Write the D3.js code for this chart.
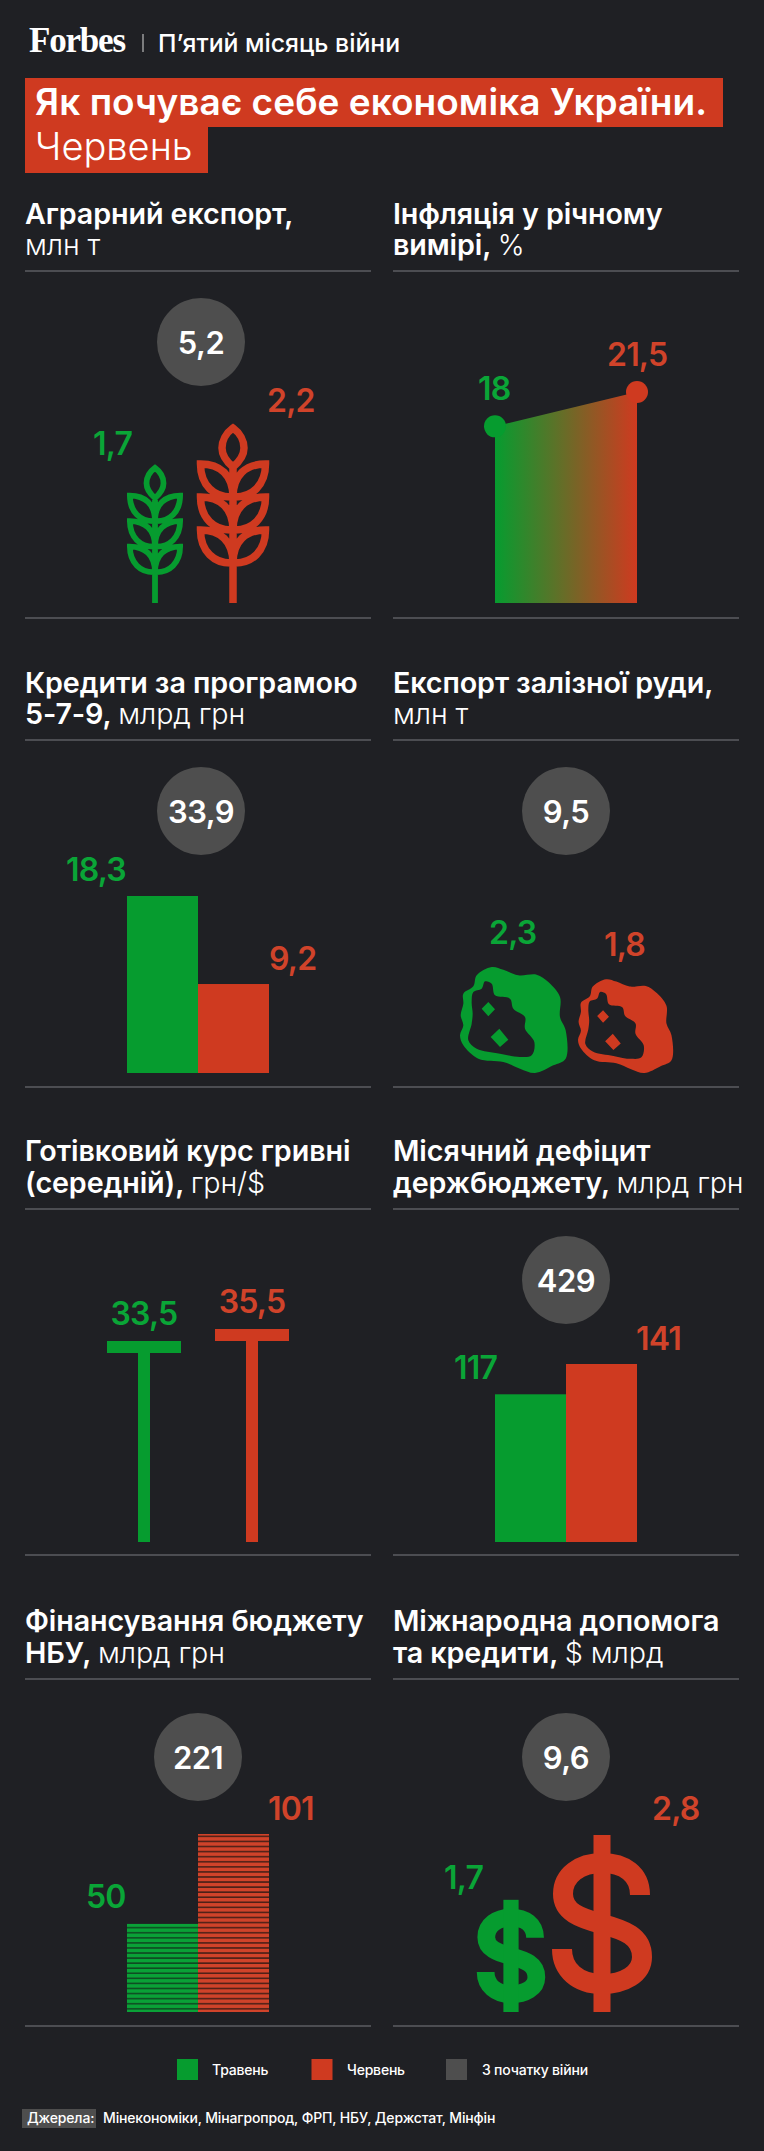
<!DOCTYPE html>
<html>
<head>
<meta charset="utf-8">
<script src="https://cdn.jsdelivr.net/npm/d3@7"></script>
<style>
  html, body { margin: 0; padding: 0; background: #1f2024; }
  svg { display: block; font-family: Inter, "Noto Sans", sans-serif; }
</style>
</head>
<body>
<svg id="chart" width="764" height="2151"></svg>
<script>
// values
const months = ['Травень', 'Червень'];
const agroExport = [1.7, 2.2];
const inflation = [18, 21.5];
const loans = [18.3, 9.2];
const oreExport = [2.3, 1.8];
const fxRate = [33.5, 35.5];
const deficit = [117, 141];
const nbuFinancing = [50, 101];
const aid = [1.7, 2.8];
const sinceWarStart = { agro: 5.2, loans: 33.9, ore: 9.5, deficit: 429, nbu: 221, aid: 9.6 };
const legendLabels = ['Травень', 'Червень', 'З початку війни'];
const sources = 'Мінекономіки, Мінагропрод, ФРП, НБУ, Держстат, Мінфін';

const green = '#069c2f', red = '#cf3a20', gray = '#4e4e4e', bg = '#1f2024', ruleColor = '#4c4d52';
const greenText = '#0aa537', redText = '#d0432a';
const colors = [green, red], textColors = [greenText, redText];

const svg = d3.select('#chart');
const comma = (v) => String(v).replace('.', ',');

svg.append('rect').attr('width', 764).attr('height', 2151).attr('fill', bg);

const defs = svg.append('defs');
const grad = defs.append('linearGradient').attr('id', 'inflGrad');
grad.append('stop').attr('offset', '0%').attr('stop-color', green);
grad.append('stop').attr('offset', '100%').attr('stop-color', red);

// stripes for the NBU bars
const stripe = (id, col, dark) => {
  const p = defs.append('pattern').attr('id', id).attr('patternUnits', 'userSpaceOnUse')
    .attr('width', 10).attr('height', 5.07).attr('y', 1837.2);
  p.append('rect').attr('width', 10).attr('height', 5.07).attr('fill', dark);
  p.append('rect').attr('width', 10).attr('height', 3.5).attr('fill', col);
};
stripe('stripeG', '#0aa137', '#0f4a22');
stripe('stripeR', '#d0432a', '#4c2017');

// header
svg.append('text').attr('x', 29).attr('y', 52).attr('fill', '#fff')
  .attr('font-family', '"Liberation Serif", serif').attr('font-weight', 700)
  .attr('font-size', 35).attr('letter-spacing', -1.2).text('Forbes');
svg.append('line').attr('x1', 143).attr('x2', 143).attr('y1', 34).attr('y2', 52)
  .attr('stroke', '#bbb').attr('stroke-width', 1.2);
svg.append('text').attr('x', 158).attr('y', 52).attr('fill', '#fff').attr('font-weight', 500)
  .attr('font-size', 24.8).text('П’ятий місяць війни');

svg.append('rect').attr('x', 25).attr('y', 78).attr('width', 698).attr('height', 49).attr('fill', red);
svg.append('rect').attr('x', 25).attr('y', 127).attr('width', 183).attr('height', 46).attr('fill', red);
svg.append('text').attr('x', 35).attr('y', 115).attr('fill', '#fff').attr('font-weight', 600)
  .attr('font-size', 37).attr('textLength', 672).attr('lengthAdjust', 'spacing')
  .text('Як почуває себе економіка України.');
svg.append('text').attr('x', 35).attr('y', 160).attr('fill', '#fff').attr('font-weight', 300)
  .attr('font-size', 38).text('Червень');

// section titles
const heading = (x, y1, y2, line1, boldPart, lightPart, ruleY) => {
  svg.append('text').attr('x', x).attr('y', y1).attr('fill', '#fff').attr('font-weight', 600)
    .attr('font-size', 28.7).attr('letter-spacing', -0.1).text(line1);
  const t = svg.append('text').attr('x', x).attr('y', y2).attr('fill', '#fff')
    .attr('font-size', 28.7).attr('letter-spacing', -0.1);
  if (boldPart) t.append('tspan').attr('font-weight', 600).text(boldPart + ' ');
  t.append('tspan').attr('font-weight', 300).text(lightPart);
  svg.append('line').attr('x1', x).attr('x2', x + 346).attr('y1', ruleY).attr('y2', ruleY)
    .attr('stroke', ruleColor).attr('stroke-width', 2);
};
const left = 25, right = 393;
heading(left, 224, 255, 'Аграрний експорт,', '', 'млн т', 271);
heading(right, 224, 255, 'Інфляція у річному', 'вимірі,', '%', 271);
heading(left, 693, 724, 'Кредити за програмою', '5-7-9,', 'млрд грн', 740);
heading(right, 693, 724, 'Експорт залізної руди,', '', 'млн т', 740);
heading(left, 1161, 1193, 'Готівковий курс гривні', '(середній),', 'грн/$', 1209);
heading(right, 1161, 1193, 'Місячний дефіцит', 'держбюджету,', 'млрд грн', 1209);
heading(left, 1631, 1663, 'Фінансування бюджету', 'НБУ,', 'млрд грн', 1679);
heading(right, 1631, 1663, 'Міжнародна допомога', 'та кредити,', '$ млрд', 1679);
[618, 1087, 1555, 2026].forEach((y) => [left, right].forEach((x) => {
  svg.append('line').attr('x1', x).attr('x2', x + 346).attr('y1', y).attr('y2', y)
    .attr('stroke', ruleColor).attr('stroke-width', 2);
}));

// gray circle with the total since the start of the war
const total = (cx, cy, v) => {
  svg.append('circle').attr('cx', cx).attr('cy', cy).attr('r', 44).attr('fill', gray);
  svg.append('text').attr('x', cx).attr('y', cy + 11.5).attr('text-anchor', 'middle')
    .attr('fill', '#fff').attr('font-weight', 600).attr('font-size', 31).attr('letter-spacing', -0.5)
    .text(comma(v));
};
total(201, 342, sinceWarStart.agro);
total(201, 811, sinceWarStart.loans);
total(566, 811, sinceWarStart.ore);
total(566, 1280, sinceWarStart.deficit);
total(198, 1757, sinceWarStart.nbu);
total(566, 1757, sinceWarStart.aid);

const valueLabel = (x, y, i, v, anchor) => {
  svg.append('text').attr('x', x).attr('y', y).attr('text-anchor', anchor || 'start')
    .attr('fill', textColors[i]).attr('font-weight', 600).attr('font-size', 32)
    .attr('letter-spacing', -0.8).text(comma(v));
};

// wheat: height follows the value
const wheatH = d3.scaleLinear().domain([0, 2.2]).range([0, 179]);
const wheatLeaf = (y0, sx) =>
  `M0,${y0 + 33} C${sx * 19},${y0 + 34} ${sx * 32.5},${y0 + 21} ${sx * 32.5},${y0} C${sx * 13},${y0} 0,${y0 + 11} 0,${y0 + 33} Z`;
const wheatPath = 'M0,-175 C7,-170 11,-162 11,-155 C11,-147 6,-141 0,-136 C-6,-141 -11,-147 -11,-155 C-11,-162 -7,-170 0,-175 Z M0,-136 L0,0 '
  + [-139, -106, -73].map((y) => wheatLeaf(y, 1) + ' ' + wheatLeaf(y, -1)).join(' ');
const wheatX = [155, 233];
agroExport.forEach((v, i) => {
  svg.append('path').attr('d', wheatPath)
    .attr('transform', `translate(${wheatX[i]},603) scale(${wheatH(v) / 179})`)
    .attr('fill', 'none').attr('stroke', colors[i]).attr('stroke-width', 7.5).attr('stroke-linejoin', 'miter');
});
valueLabel(93, 455, 0, agroExport[0]);
valueLabel(267, 412, 1, agroExport[1]);

// inflation area
const inflX = d3.scalePoint().domain(months).range([495, 637]);
const inflY = d3.scaleLinear().domain([0, 21.5]).range([603, 392]);
const inflArea = d3.area().x((d, i) => inflX(months[i])).y0(inflY(0)).y1((d) => inflY(d));
svg.append('path').attr('d', inflArea(inflation)).attr('fill', 'url(#inflGrad)');
svg.selectAll('.dot').data(inflation).enter().append('circle').attr('class', 'dot')
  .attr('cx', (d, i) => inflX(months[i])).attr('cy', (d) => inflY(d)).attr('r', 11)
  .attr('fill', (d, i) => colors[i]);
valueLabel(478, 400, 0, inflation[0]);
valueLabel(607, 366, 1, inflation[1]);

// plain paired bars
const pairedBars = (vals, x0, x1, y, fills) => {
  const x = d3.scaleBand().domain(months).range([x0, x1]);
  svg.append('g').selectAll('rect').data(vals).enter().append('rect')
    .attr('x', (d, i) => x(months[i])).attr('width', x.bandwidth())
    .attr('y', (d) => y(d)).attr('height', (d) => y(0) - y(d))
    .attr('fill', (d, i) => fills[i]);
};
pairedBars(loans, 127, 269, d3.scaleLinear().domain([0, 18.3]).range([1073, 896]), colors);
valueLabel(66, 881, 0, loans[0]);
valueLabel(269, 970, 1, loans[1]);

// ore pictograms: area follows the value
const rockSize = d3.scaleSqrt().domain([0, 2.3]).range([0, 106]);
const rockLine = d3.line().curve(d3.curveCatmullRomClosed.alpha(0.5));
const rockOuter = [[95, 0], [130, 8], [175, 25], [230, 23], [265, 45], [300, 90], [300, 150], [317, 190], [317, 275], [280, 295], [225, 318], [180, 305], [130, 285], [55, 275], [10, 235], [0, 205], [10, 175], [2, 145], [10, 110], [10, 80], [40, 58], [50, 25]];
const rockHole = [[75, 43], [95, 50], [105, 85], [150, 95], [160, 125], [195, 150], [195, 185], [223, 225], [215, 265], [180, 270], [120, 260], [50, 245], [25, 220], [35, 170], [38, 140], [35, 105], [40, 75], [65, 65]];
const rockBits = 'M65,125 L85,105 L105,127 L85,148 Z M118,185 L145,218 L120,240 L92,210 Z';
const rockPath = rockLine(rockOuter) + ' ' + rockLine(rockHole) + ' ' + rockBits;
const rockX = [460, 578];
oreExport.forEach((v, i) => {
  const s = rockSize(v);
  svg.append('path').attr('d', rockPath).attr('fill-rule', 'evenodd').attr('fill', colors[i])
    .attr('transform', `translate(${rockX[i]},${1073 - s}) scale(${s / 318})`);
});
valueLabel(489, 944, 0, oreExport[0]);
valueLabel(604, 956, 1, oreExport[1]);

// exchange rate: T marks
const fxY = d3.scaleLinear().domain([0, 35.5]).range([1542, 1329]);
const fxX = [144, 252];
fxRate.forEach((v, i) => {
  svg.append('rect').attr('x', fxX[i] - 6).attr('width', 12).attr('y', fxY(v)).attr('height', fxY(0) - fxY(v)).attr('fill', colors[i]);
  svg.append('rect').attr('x', fxX[i] - 37).attr('width', 74).attr('y', fxY(v)).attr('height', 12).attr('fill', colors[i]);
  valueLabel(fxX[i], fxY(v) - 16, i, v, 'middle');
});

pairedBars(deficit, 495, 637, d3.scaleLinear().domain([0, 141]).range([1542, 1364]), colors);
valueLabel(454, 1379, 0, deficit[0]);
valueLabel(636, 1350, 1, deficit[1]);

pairedBars(nbuFinancing, 127, 269, d3.scaleLinear().domain([0, 101]).range([2012, 1834]), ['url(#stripeG)', 'url(#stripeR)']);
valueLabel(86, 1908, 0, nbuFinancing[0]);
valueLabel(268, 1820, 1, nbuFinancing[1]);

// dollar signs: height follows the value, green one is drawn heavier
const dollarH = d3.scaleLinear().domain([0, 2.8]).range([12, 177]);
const dollarS = 'M38,-117 C38,-138 22,-149 0,-149 C-22,-149 -39,-137 -39,-118 C-39,-100 -22,-94 0,-88 C22,-82 40,-76 40,-55 C40,-38 22,-28 0,-28 C-24,-28 -40,-42 -40,-63';
const dollarX = [511, 602], dollarStroke = [28, 20], dollarBar = [24, 17];
aid.forEach((v, i) => {
  const g = svg.append('g').attr('transform', `translate(${dollarX[i]},2012) scale(${dollarH(v) / 177})`);
  g.append('path').attr('d', dollarS).attr('fill', 'none').attr('stroke', colors[i]).attr('stroke-width', dollarStroke[i]);
  g.append('rect').attr('x', -dollarBar[i] / 2).attr('width', dollarBar[i]).attr('y', -177).attr('height', 177).attr('fill', colors[i]);
});
valueLabel(444, 1889, 0, aid[0]);
valueLabel(652, 1820, 1, aid[1]);

// legend
const legendX = [177, 311.5, 446], legendTextX = [212, 347, 482];
legendLabels.forEach((d, i) => {
  svg.append('rect').attr('x', legendX[i]).attr('y', 2059).attr('width', 21).attr('height', 21).attr('fill', [green, red, gray][i]);
  svg.append('text').attr('x', legendTextX[i]).attr('y', 2075).attr('fill', '#fff').attr('font-weight', 500)
    .attr('font-size', 14).attr('letter-spacing', -0.2).text(d);
});

// sources
svg.append('rect').attr('x', 22).attr('y', 2109).attr('width', 74).attr('height', 19).attr('fill', gray);
svg.append('text').attr('x', 27).attr('y', 2123).attr('fill', '#fff').attr('font-weight', 500).attr('font-size', 14).attr('letter-spacing', -0.15).text('Джерела:');
svg.append('text').attr('x', 103).attr('y', 2123).attr('fill', '#fff').attr('font-weight', 500).attr('font-size', 14).attr('letter-spacing', -0.15).text(sources);
</script>
</body>
</html>
